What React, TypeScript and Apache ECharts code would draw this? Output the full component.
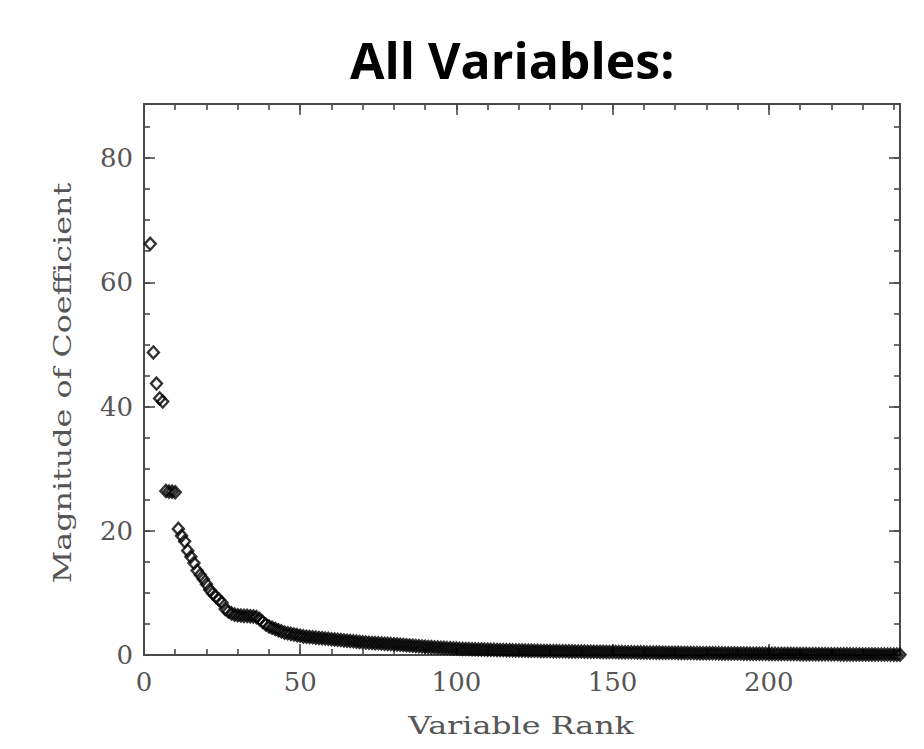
import React, { useEffect, useRef } from 'react';
import * as echarts from 'echarts';

const chartTitle = 'All Variables:';
const xTitle = 'Variable Rank';
const yTitle = 'Magnitude of Coefficient';

const firstRank = 2;
const magnitudes = [
  66.2, 48.7, 43.7, 41.3, 40.8, 26.4, 26.3, 26.3, 26.2,
  20.3, 19.2, 18.3, 16.8, 15.8, 14.8, 13.6, 12.9, 12.2, 11.4,
  10.5, 9.9, 9.4, 8.9, 8.4, 7.4, 7.0, 6.7, 6.5, 6.4,
  6.35, 6.3, 6.3, 6.25, 6.2, 6.1, 5.8, 5.3, 4.9, 4.6,
  4.4, 4.2, 4.0, 3.8, 3.6, 3.5, 3.4, 3.3, 3.2, 3.1,
  3.0, 2.95, 2.9, 2.85, 2.8, 2.75, 2.7, 2.65, 2.6, 2.55,
  2.5, 2.45, 2.4, 2.35, 2.3, 2.25, 2.2, 2.15, 2.1, 2.05,
  2.0, 1.97, 1.94, 1.91, 1.88, 1.85, 1.82, 1.79, 1.76, 1.73,
  1.70, 1.66, 1.62, 1.58, 1.54, 1.50, 1.46, 1.42, 1.38, 1.34,
  1.30, 1.27, 1.24, 1.21, 1.18, 1.15, 1.12, 1.09, 1.06, 1.03,
  1.00, 0.98, 0.96, 0.95, 0.93, 0.92, 0.90, 0.89, 0.87, 0.86,
  0.84, 0.83, 0.82, 0.80, 0.79, 0.78, 0.77, 0.75, 0.74, 0.73,
  0.72, 0.71, 0.70, 0.69, 0.68, 0.67, 0.66, 0.65, 0.64, 0.63,
  0.62, 0.61, 0.60, 0.60, 0.59, 0.58, 0.57, 0.56, 0.56, 0.55,
  0.54, 0.53, 0.53, 0.52, 0.51, 0.50, 0.50, 0.49, 0.48, 0.48,
  0.47, 0.46, 0.46, 0.45, 0.44, 0.44, 0.43, 0.42, 0.42, 0.41,
  0.40, 0.40, 0.39, 0.38, 0.38, 0.37, 0.36, 0.36, 0.35, 0.35,
  0.34, 0.33, 0.33, 0.32, 0.32, 0.31, 0.30, 0.30, 0.29, 0.29,
  0.28, 0.28, 0.27, 0.26, 0.26, 0.25, 0.25, 0.24, 0.24, 0.23,
  0.23, 0.22, 0.22, 0.21, 0.21, 0.20, 0.20, 0.19, 0.19, 0.18,
  0.18, 0.18, 0.17, 0.17, 0.16, 0.16, 0.16, 0.15, 0.15, 0.14,
  0.14, 0.14, 0.13, 0.13, 0.13, 0.12, 0.12, 0.12, 0.11, 0.11,
  0.11, 0.11, 0.10, 0.10, 0.10, 0.10, 0.09, 0.09, 0.09, 0.09,
  0.08, 0.08, 0.08, 0.08, 0.07, 0.07, 0.07, 0.07, 0.07, 0.06,
  0.06, 0.06,
];

const xMajorTicks = [0, 50, 100, 150, 200];
const xMinorTicks = [0, 10, 20, 30, 40, 50, 60, 70, 80, 90, 100, 110, 120, 130, 140, 150, 160, 170, 180, 190, 200, 210, 220, 230, 240];
const yMajorTicks = [0, 20, 40, 60, 80];
const yMinorTicks = [0, 5, 10, 15, 20, 25, 30, 35, 40, 45, 50, 55, 60, 65, 70, 75, 80, 85];
const xMin = 0;
const xMax = 242;
const yMin = 0;
const yMax = 88.7;

const AXIS_COLOR = '#4a4a4a';
const LABEL_COLOR = '#555';
const LABEL_FONT = '"DejaVu Serif", "Liberation Serif", serif';

function makeAxis(kind: 'x' | 'y', position: string, ticks: number[], len: number, showLine: boolean, labels: number[] | null) {
  return {
    type: 'value',
    position,
    min: kind === 'x' ? xMin : yMin,
    max: kind === 'x' ? xMax : yMax,
    axisLine: { show: showLine, onZero: false, lineStyle: { color: AXIS_COLOR, width: 2 } },
    axisTick: { show: true, inside: true, length: len, customValues: ticks, lineStyle: { color: AXIS_COLOR, width: 1.6 } },
    axisLabel: labels
      ? {
          show: true,
          customValues: labels,
          color: LABEL_COLOR,
          fontFamily: LABEL_FONT,
          fontSize: 26,
          margin: kind === 'x' ? 14 : 11,
        }
      : { show: false },
    splitLine: { show: false },
  };
}

export default function App() {
  const ref = useRef<HTMLDivElement>(null);
  useEffect(() => {
    if (!ref.current) return;
    const chart = echarts.init(ref.current, null, { renderer: 'svg' });
    const data = magnitudes.map((v, i) => [firstRank + i, v]);
    chart.setOption({
      animation: false,
      backgroundColor: '#fff',
      title: {
        text: chartTitle,
        left: 345,
        top: 30,
        textStyle: { fontFamily: '"Open Sans", sans-serif', fontWeight: 'bold', fontSize: 50, color: '#000' },
      },
      grid: { left: 144, right: 24, top: 104, bottom: 94, outerBoundsMode: 'none' },
      xAxis: [
        makeAxis('x', 'bottom', xMinorTicks, 6, true, xMajorTicks),
        makeAxis('x', 'bottom', xMajorTicks, 11, false, null),
        makeAxis('x', 'top', xMinorTicks, 6, true, null),
        makeAxis('x', 'top', xMajorTicks, 11, false, null),
      ],
      yAxis: [
        makeAxis('y', 'left', yMinorTicks, 6, true, yMajorTicks),
        makeAxis('y', 'left', yMajorTicks, 11, false, null),
        makeAxis('y', 'right', yMinorTicks, 6, true, null),
        makeAxis('y', 'right', yMajorTicks, 11, false, null),
      ],
      graphic: [
        {
          type: 'text',
          x: 521,
          y: 725,
          scaleX: 1.27,
          style: {
            text: xTitle,
            fontFamily: LABEL_FONT,
            fontSize: 25,
            fill: LABEL_COLOR,
            textAlign: 'center',
            textVerticalAlign: 'middle',
            verticalAlign: 'middle',
          },
        },
        {
          type: 'text',
          x: 62,
          y: 383,
          rotation: Math.PI / 2,
          scaleX: 1.27,
          style: {
            text: yTitle,
            fontFamily: LABEL_FONT,
            fontSize: 25,
            fill: LABEL_COLOR,
            textAlign: 'center',
            textVerticalAlign: 'middle',
            verticalAlign: 'middle',
          },
        },
      ],
      series: [
        {
          type: 'scatter',
          xAxisIndex: 0,
          yAxisIndex: 0,
          data,
          symbol: 'diamond',
          symbolSize: [11, 12],
          itemStyle: { color: 'rgba(0,0,0,0)', borderColor: '#000', borderWidth: 2.4 },
          emphasis: { disabled: true },
        },
      ],
    });
    return () => chart.dispose();
  }, []);
  return <div ref={ref} style={{ position: 'fixed', left: 0, top: 0, width: 924, height: 749, background: '#fff' }} />;
}
